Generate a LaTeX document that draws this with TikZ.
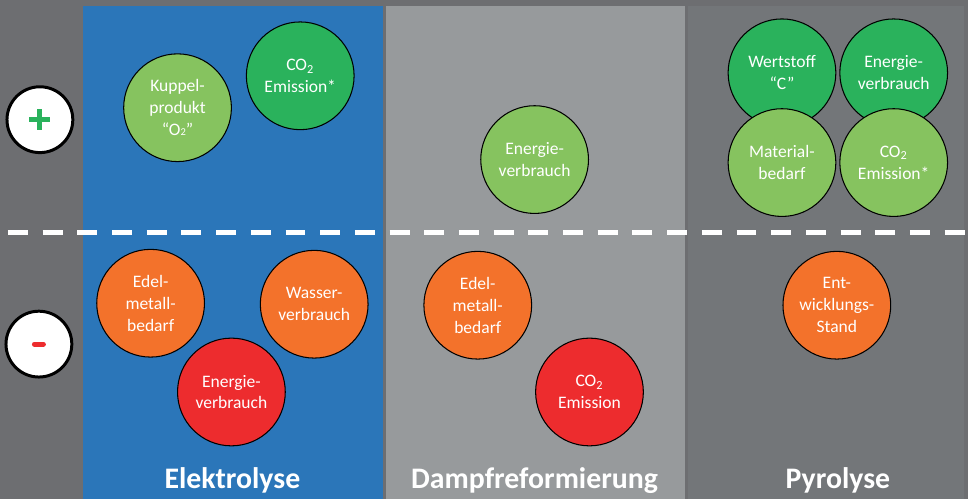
\documentclass[tikz,border=0pt]{standalone}
\usepackage{fontspec}
\setmainfont{Carlito}
\definecolor{bggray}{RGB}{109,110,113}
\definecolor{elyblue}{RGB}{43,118,185}
\definecolor{smrgray}{RGB}{151,154,156}
\definecolor{pyrgray}{RGB}{115,118,121}
\definecolor{prolight}{RGB}{134,195,95}
\definecolor{prodark}{RGB}{42,178,92}
\definecolor{conorange}{RGB}{243,114,43}
\definecolor{conred}{RGB}{237,44,46}
\tikzset{bubble/.style={circle,draw=black,line width=.6pt,minimum size=21.6mm,inner sep=0pt,
  align=center,text=white,font=\fontsize{10}{12.5}\selectfont},
 prolt/.style={bubble,fill=prolight},prodk/.style={bubble,fill=prodark},
 conor/.style={bubble,fill=conorange},conrd/.style={bubble,fill=conred},
 rating/.style={circle,draw=black,line width=1.7pt,fill=white,minimum size=13.2mm,inner sep=0pt},
 title/.style={anchor=base,text=white,font=\fontsize{17}{20}\selectfont\bfseries}}

\begin{document}
\begin{tikzpicture}[x=.2mm,y=-.2mm]
\fill[bggray] (0,0) rectangle (970,500);
\fill[elyblue] (83,6) rectangle (384,500);
\fill[smrgray] (387,6) rectangle (687,500);
\fill[pyrgray] (690,6) rectangle (966,500);
\draw[white,line width=1mm,dash pattern=on 4mm off 2.956mm] (8,233)--(970,233);
% pro / contra
\node[rating] (plus) at (40,120) {};
\draw[prodark,line width=1mm] (plus.center) ++(-10.5,0) -- ++(21,0);
\draw[prodark,line width=1mm] (plus.center) ++(0,-10.5) -- ++(0,21);
\node[rating] (minus) at (39,345) {};
\draw[conred,line width=1mm,line cap=round] (minus.center) ++(-4.5,0) -- ++(9,0);
% Elektrolyse
\node[prolt] (ely-kuppel) at (178,108) {Kuppel-\\produkt\\``O{\fontsize{6}{6}\selectfont 2}''};
\node[prodk] (ely-co2) at (301,76) {CO\textsubscript{2}\\Emission*};
\node[conor] (ely-edel) at (151,304) {Edel-\\metall-\\bedarf};
\node[conor] (ely-wasser) at (315,305) {Wasser-\\verbrauch};
\node[conrd] (ely-energie) at (232,393) {Energie-\\verbrauch};
\node[title] (ely) at (233,490) {Elektrolyse};
% Dampfreformierung
\node[prolt] (smr-energie) at (536,160) {Energie-\\verbrauch};
\node[conor] (smr-edel) at (479,306) {Edel-\\metall-\\bedarf};
\node[conrd] (smr-co2) at (591,393) {CO\textsubscript{2}\\Emission};
\node[title] (smr) at (536,490) {Dampfreformierung};
% Pyrolyse
\node[prodk] (pyr-wert) at (784,73) {Wertstoff\\``C''};
\node[prodk] (pyr-energie) at (896,73) {Energie-\\verbrauch};
\node[prolt] (pyr-material) at (784,163) {Material-\\bedarf};
\node[prolt] (pyr-co2) at (896,163) {CO\textsubscript{2}\\Emission*};
\node[conor] (pyr-stand) at (839,306) {Ent-\\wicklungs-\\Stand};
\node[title] (pyr) at (840,490) {Pyrolyse};
\end{tikzpicture}
\end{document}
